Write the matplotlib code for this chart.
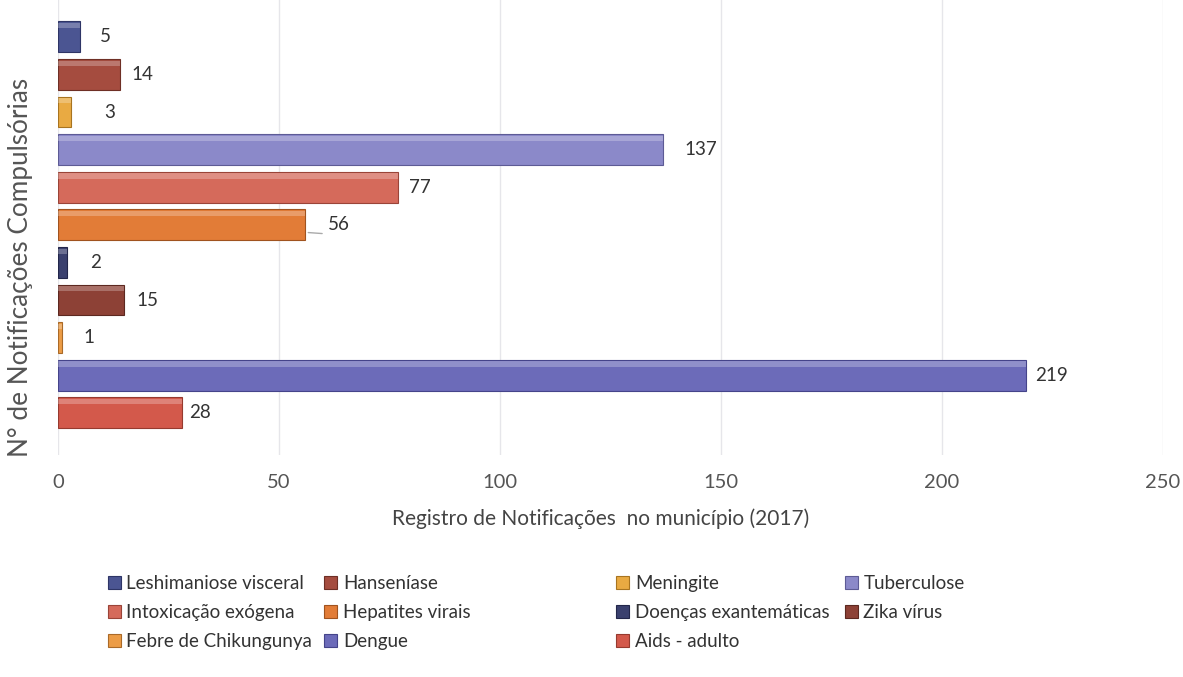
import matplotlib
matplotlib.use("Agg")
import matplotlib.pyplot as plt
from matplotlib.patches import Patch

plt.rcParams['font.family'] = ['Lato', 'DejaVu Sans']

# data, top to bottom as in the chart
diseases = ["Leshimaniose visceral", "Hanseníase", "Meningite", "Tuberculose",
            "Intoxicação exógena", "Hepatites virais", "Doenças exantemáticas",
            "Zika vírus", "Febre de Chikungunya", "Dengue", "Aids - adulto"]
counts = [5, 14, 3, 137, 77, 56, 2, 15, 1, 219, 28]
xticks = [0, 50, 100, 150, 200, 250]

colors = ["#4B5592", "#A54C3F", "#E9AA42", "#8B89C9", "#D56A5B", "#E27C37",
          "#3A406E", "#8D4136", "#EC9C46", "#6C6BB9", "#D3594B"]
edges = ["#2E3566", "#6E2F25", "#A87420", "#5D5B95", "#9A4438", "#A0531F",
         "#22264A", "#5C2820", "#AA6A28", "#45448A", "#963A2F"]
label_pad = [14, 8, 24, 15, 8, 16, 17, 9, 15, 7, 5]  # points

fig = plt.figure(figsize=(11.83, 6.77), dpi=100)
ax = fig.add_axes([0.049, 0.328, 0.934, 0.672])

pos = list(range(len(counts)))
ax.barh(pos, counts, height=0.82, color=colors, edgecolor=edges, linewidth=0.8, zorder=3)
# light highlight on top edge of each bar (bevel look)
ax.barh([p - 0.30 for p in pos], counts, height=0.14, color="white", alpha=0.25,
        linewidth=0, zorder=4)

for p, v, pad in zip(pos, counts, label_pad):
    ax.annotate(str(v), (v, p), xytext=(pad, 0), textcoords="offset points",
                va="center", ha="left", fontsize=13.5, color="#333333")
# leader line for the 56 label
i56 = counts.index(56)
ax.annotate("", (counts[i56], i56 + 0.2), xytext=(14, -1), textcoords="offset points",
            arrowprops=dict(arrowstyle="-", color="#aaaaaa", lw=1))

ax.set_xlim(0, 250)
ax.set_ylim(11.12, -0.98)
ax.set_xticks(xticks)
ax.set_yticks([])
ax.tick_params(axis="x", length=0, labelsize=14.5, labelcolor="#555555", pad=14)
ax.grid(axis="x", color="#e6e6ea", lw=1, zorder=0)
for s in ax.spines.values():
    s.set_visible(False)

ax.set_xlabel("Registro de Notificações  no município (2017)", fontsize=15,
              color="#444444")
ax.xaxis.set_label_coords(0.491, -0.118)
fig.text(0.017, 0.605, "N° de Notificações Compulsórias", rotation=90, fontsize=18.8,
         color="#555555", ha="center", va="center")

# legend: row-major order split into 4 columns like the original
handles = [Patch(facecolor=c, edgecolor=e, lw=0.8) for c, e in zip(colors, edges)]
col_x = [0.091, 0.274, 0.521, 0.714]
for ci, x in enumerate(col_x):
    idx = list(range(ci, len(diseases), 4))
    fig.legend([handles[i] for i in idx], [diseases[i] for i in idx],
               loc="upper left", bbox_to_anchor=(x, 0.150), frameon=False,
               fontsize=13.5, handlelength=0.7, handleheight=0.7, handletextpad=0.3,
               labelspacing=0.62, borderaxespad=0, borderpad=0, labelcolor="#333333")

fig.savefig("out.png", dpi=100, facecolor="white")
